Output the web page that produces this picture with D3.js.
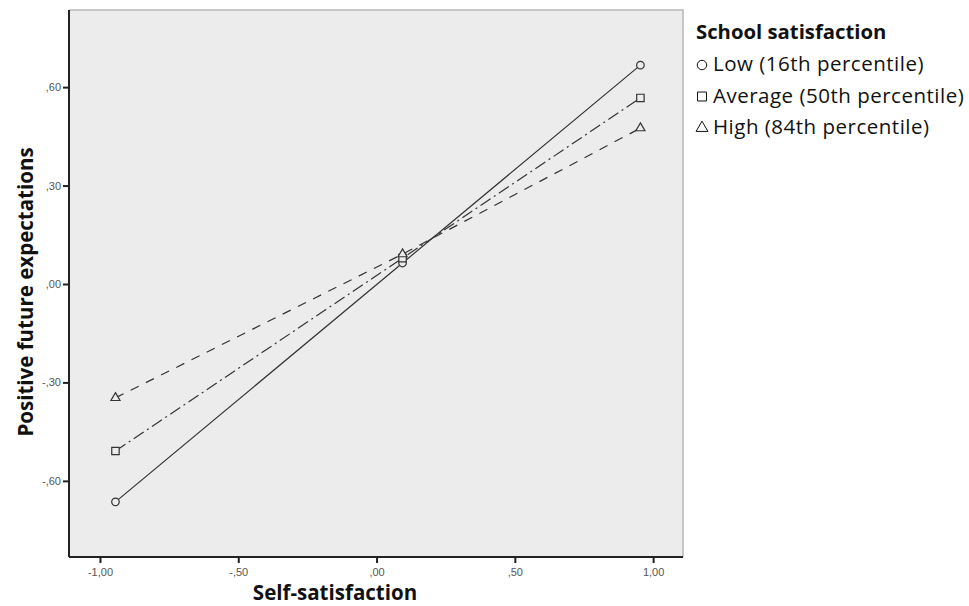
<!DOCTYPE html>
<html>
<head>
<meta charset="utf-8">
<script src="https://cdn.jsdelivr.net/npm/d3@7"></script>
<style>
	body { margin: 0; background: #fff; }
	svg { display: block; }
</style>
</head>
<body>
<div class="chart"></div>
<script>
// values
const groups = ["Low (16th percentile)", "Average (50th percentile)", "High (84th percentile)"];
const xLevels = [-0.944, 0.094, 0.954];
const lowValues = [-0.664, 0.064, 0.667];
const avgValues = [-0.509, 0.079, 0.567];
const highValues = [-0.347, 0.091, 0.475];
const xTicks = [-1, -0.5, 0, 0.5, 1];
const yTicks = [-0.6, -0.3, 0, 0.3, 0.6];

var w = 969,
	h = 606,
	plotLeft = 69,
	plotRight = 683,
	plotTop = 10,
	plotBottom = 557;

const series = [
	{ name: groups[0], values: lowValues, symbol: d3.symbolCircle, size: 45, dash: null },
	{ name: groups[1], values: avgValues, symbol: d3.symbolSquare, size: 55, dash: "12,4,2,4" },
	{ name: groups[2], values: highValues, symbol: d3.symbolTriangle, size: 36, dash: "9,8" }
];

const fmt = (d) => d.toFixed(2).replace(".", ",").replace(/^(-?)0,/, "$1,");

const svg = d3.select(".chart").append("svg").attr("width", w).attr("height", h);

const xScale = d3.scaleLinear().domain([-1.112, 1.108]).range([plotLeft, plotRight]);
const yScale = d3.scaleLinear().domain([-0.832, 0.835]).range([plotBottom, plotTop]);

// plot background
svg
	.append("rect")
	.attr("x", plotLeft)
	.attr("y", plotTop)
	.attr("width", plotRight - plotLeft)
	.attr("height", plotBottom - plotTop)
	.attr("fill", "#ececec");

// light frame on top and right
svg
	.append("path")
	.attr("d", "M" + plotLeft + "," + plotTop + "H" + plotRight + "V" + plotBottom)
	.attr("fill", "none")
	.attr("stroke", "#b8b8b8")
	.attr("stroke-width", 1.5);

const xAxis = d3.axisBottom(xScale).tickValues(xTicks).tickFormat(fmt).tickSize(6).tickPadding(5);
const yAxis = d3.axisLeft(yScale).tickValues(yTicks).tickFormat(fmt).tickSize(6).tickPadding(2);

const gx = svg
	.append("g")
	.attr("transform", "translate(0," + plotBottom + ")")
	.call(xAxis);
const gy = svg
	.append("g")
	.attr("transform", "translate(" + plotLeft + ",0)")
	.call(yAxis);

[gx, gy].forEach((g) => {
	g.select(".domain").attr("stroke", "#222").attr("stroke-width", 2);
	g.selectAll(".tick line").attr("stroke", "#222").attr("stroke-width", 2);
	g.selectAll(".tick text")
		.attr("fill", "#555")
		.style("font-family", "Liberation Sans, Arial, sans-serif")
		.style("font-size", "11px");
});
gy.select(".domain").attr("d", "M0," + plotTop + "V" + plotBottom);
gx.select(".domain").attr("d", "M" + plotLeft + ",0H" + plotRight);

// lines
const line = d3
	.line()
	.x((d, i) => xScale(xLevels[i]))
	.y((d) => yScale(d));

series.forEach((s) => {
	svg
		.append("path")
		.datum(s.values)
		.attr("d", line)
		.attr("fill", "none")
		.attr("stroke", "#333")
		.attr("stroke-width", 1.2)
		.attr("stroke-dasharray", s.dash);

	svg
		.selectAll(null)
		.data(s.values)
		.enter()
		.append("path")
		.attr("d", d3.symbol().type(s.symbol).size(s.size))
		.attr("transform", (d, i) => "translate(" + xScale(xLevels[i]) + "," + yScale(d) + ")")
		.attr("fill", "#ececec")
		.attr("stroke", "#333")
		.attr("stroke-width", 1.2);
});

// axis titles
svg
	.append("text")
	.attr("x", 335)
	.attr("y", 600)
	.attr("text-anchor", "middle")
	.style("font-family", "Open Sans, sans-serif")
	.style("font-weight", "bold")
	.style("font-size", "20.5px")
	.attr("fill", "#111")
	.text("Self-satisfaction");

svg
	.append("text")
	.attr("transform", "translate(33,292) rotate(-90)")
	.attr("text-anchor", "middle")
	.style("font-family", "Open Sans, sans-serif")
	.style("font-weight", "bold")
	.style("font-size", "20.5px")
	.attr("fill", "#111")
	.text("Positive future expectations");

// legend
const legend = svg.append("g").attr("id", "legend");

legend
	.append("text")
	.attr("x", 696)
	.attr("y", 39)
	.style("font-family", "Open Sans, sans-serif")
	.style("font-weight", "bold")
	.style("font-size", "20.3px")
	.attr("fill", "#111")
	.text("School satisfaction");

const items = legend
	.selectAll(".legend-label")
	.data(series)
	.enter()
	.append("g")
	.attr("class", "legend-label")
	.attr("transform", (d, i) => "translate(0," + (71 + i * 31.5) + ")");

items
	.append("path")
	.attr("d", (d) => d3.symbol().type(d.symbol).size(d.size + 25)())
	.attr("transform", "translate(702,-6)")
	.attr("fill", "none")
	.attr("stroke", "#111")
	.attr("stroke-width", 1);

items
	.append("text")
	.attr("x", 713)
	.attr("y", 0)
	.style("font-family", "Open Sans, sans-serif")
	.style("font-size", "20.5px")
	.style("letter-spacing", "0.5px")
	.attr("fill", "#111")
	.text((d) => d.name);
</script>
</body>
</html>
